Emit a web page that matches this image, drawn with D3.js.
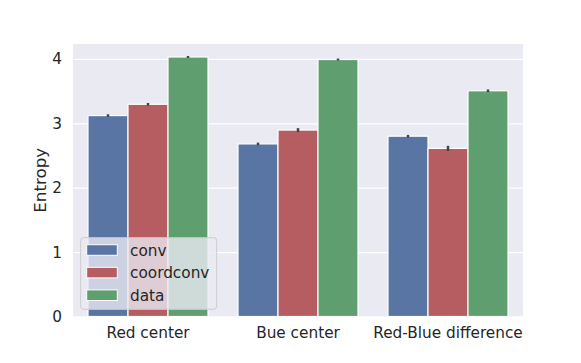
<!DOCTYPE html>
<html><head><meta charset="utf-8">
<script src="https://cdn.jsdelivr.net/npm/d3@7"></script>
<style>body{margin:0;background:#fff}svg{display:block}text{font-family:"DejaVu Sans",sans-serif;fill:#262626}</style>
</head><body><svg id="c" width="581" height="363"></svg>
<script>
const categories = ["Red center", "Bue center", "Red-Blue difference"];
const series = ["conv", "coordconv", "data"];
const conv = [3.12, 2.68, 2.80];
const coordconv = [3.295, 2.895, 2.61];
const data = [4.03, 3.99, 3.505];
const convErr = [0.02, 0.02, 0.02];
const coordconvErr = [0.02, 0.03, 0.04];
const dataErr = [0.015, 0.015, 0.02];
const yTicks = [0, 1, 2, 3, 4];
const colors = ["#5975a4", "#b55d60", "#5f9e6e"];

const values = [conv, coordconv, data];
const errs = [convErr, coordconvErr, dataErr];

const svg = d3.select("#c");
const L = 73, R = 523, T = 44, B = 316.5;
const y = d3.scaleLinear().domain([0, 4]).range([B, B - 4 * 64.4]);
const x = d3.scaleBand().domain(categories).range([L, R]).paddingInner(0.2).paddingOuter(0.1);
const xs = d3.scaleBand().domain(series).range([0, x.bandwidth()]);

svg.append("rect").attr("x", L).attr("y", T).attr("width", R - L).attr("height", B - T).attr("fill", "#eaeaf2");

const yAxis = svg.append("g").attr("transform", `translate(${L},0)`)
  .call(d3.axisLeft(y).tickValues(yTicks).tickSize(-(R - L)).tickPadding(11).tickFormat(d3.format("d")));
yAxis.select(".domain").remove();
yAxis.selectAll("line").attr("stroke", "#fff").attr("stroke-width", 1.2);
yAxis.selectAll("text").style("font-size", "15.3px").attr("fill", "#262626").attr("font-family", "DejaVu Sans");

const xAxis = svg.append("g").attr("transform", `translate(0,${B})`)
  .call(d3.axisBottom(x).tickSize(0).tickPadding(10.5));
xAxis.select(".domain").remove();
xAxis.selectAll("text").style("font-size", "15.3px").attr("fill", "#262626").attr("font-family", "DejaVu Sans");

const bars = [];
series.forEach((s, si) => categories.forEach((c, ci) => bars.push({s, si, c, v: values[si][ci], e: errs[si][ci]})));

svg.append("g").selectAll("rect").data(bars).join("rect")
  .attr("x", d => x(d.c) + xs(d.s)).attr("width", xs.bandwidth())
  .attr("y", d => y(d.v)).attr("height", d => y(0) - y(d.v))
  .attr("fill", d => colors[d.si]).attr("stroke", "#fff").attr("stroke-width", 1.2);

svg.append("g").selectAll("line").data(bars).join("line")
  .attr("x1", d => x(d.c) + xs(d.s) + xs.bandwidth() / 2).attr("x2", d => x(d.c) + xs(d.s) + xs.bandwidth() / 2)
  .attr("y1", d => y(d.v - d.e)).attr("y2", d => y(d.v + d.e))
  .attr("stroke", "#424242").attr("stroke-width", 2.5);

svg.append("text").attr("transform", `translate(46,180.3) rotate(-90)`).attr("text-anchor", "middle")
  .style("font-size", "16.7px").text("Entropy");

const lg = svg.append("g");
lg.append("rect").attr("x", 80.7).attr("y", 237.7).attr("width", 136).attr("height", 71.6).attr("rx", 3)
  .attr("fill", "rgba(234,234,242,0.8)").attr("stroke", "#cccccc").attr("stroke-width", 1);
series.forEach((s, i) => {
  const cy = 250 + i * 22.6;
  lg.append("rect").attr("x", 86.7).attr("y", cy - 5.3).attr("width", 30.6).attr("height", 10.6)
    .attr("fill", colors[i]).attr("stroke", "#fff").attr("stroke-width", 1);
  lg.append("text").attr("x", 130).attr("y", cy + 5.5).style("font-size", "15.3px").text(s);
});
</script></body></html>
